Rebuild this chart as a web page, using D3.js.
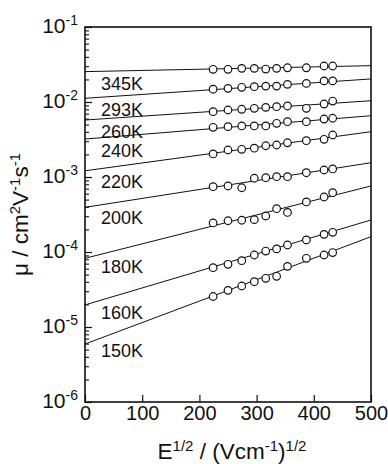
<!DOCTYPE html>
<html lang="en">
	<head>
		<meta charset="UTF-8" />
		<title>Mobility vs E^1/2</title>
		<script src="https://d3js.org/d3.v7.min.js"></script>
		<style>
			body { margin: 0; background: #fff; }
			text { font-family: 'Liberation Sans', Arial, sans-serif; fill: #111; }
		</style>
	</head>
	<body>
		<svg width="388" height="464"></svg>

		<script>
			// E^1/2 values where mobility was measured (same for every temperature)
			const eSqrt = [224, 250, 274, 296, 316, 335, 354, 387, 418, 433];

			// measured mobilities, cm2/Vs
			const mu345 = [2.73e-2, 2.73e-2, 2.81e-2, 2.81e-2, 2.75e-2, 2.81e-2, 2.86e-2, 2.86e-2, 3.02e-2, 3.02e-2];
			const mu293 = [1.48e-2, 1.52e-2, 1.57e-2, 1.60e-2, 1.63e-2, 1.63e-2, 1.72e-2, 1.77e-2, 1.91e-2, 1.91e-2];
			const mu260 = [7.43e-3, 7.82e-3, 8.0e-3, 8.24e-3, 8.49e-3, 8.65e-3, 8.85e-3, 8.24e-3, 9.4e-3, 1.03e-2];
			const mu240 = [4.6e-3, 4.69e-3, 4.79e-3, 4.79e-3, 4.79e-3, 5.2e-3, 5.46e-3, 5.46e-3, 5.93e-3, 6.07e-3];
			const mu220 = [2.03e-3, 2.29e-3, 2.34e-3, 2.42e-3, 2.61e-3, 2.67e-3, 2.86e-3, 3.05e-3, 3.18e-3, 3.63e-3];
			const mu200 = [7.43e-4, 7.59e-4, 7.19e-4, 9.62e-4, 9.79e-4, 1.01e-3, 1.01e-3, 1.14e-3, 1.24e-3, 1.28e-3];
			const mu180 = [2.44e-4, 2.61e-4, 2.65e-4, 2.7e-4, 3.02e-4, 3.78e-4, 3.37e-4, 4.65e-4, 5.41e-4, 6.18e-4];
			const mu160 = [6.18e-5, 6.85e-5, 7.66e-5, 9.12e-5, 1.03e-4, 1.1e-4, 1.24e-4, 1.45e-4, 1.72e-4, 1.83e-4];
			const mu150 = [2.55e-5, 3.08e-5, 3.52e-5, 4.02e-5, 4.46e-5, 4.74e-5, 6.44e-5, 8.24e-5, 9.12e-5, 9.84e-5];

			// fitted lines: mobility at E^1/2 = 0 and at E^1/2 = 500
			const fitEnds = [0, 500];
			const fit345 = [2.54e-2, 3.05e-2];
			const fit293 = [1.12e-2, 2.03e-2];
			const fit260 = [5.75e-3, 1.04e-2];
			const fit240 = [3.21e-3, 6.56e-3];
			const fit220 = [1.21e-3, 4.02e-3];
			const fit200 = [3.94e-4, 1.55e-3];
			const fit180 = [8.24e-5, 7.59e-4];
			const fit160 = [1.97e-5, 2.67e-4];
			const fit150 = [5.93e-6, 1.6e-4];

			const temps = ['345K', '293K', '260K', '240K', '220K', '200K', '180K', '160K', '150K'];
			const muSets = [mu345, mu293, mu260, mu240, mu220, mu200, mu180, mu160, mu150];
			const fitSets = [fit345, fit293, fit260, fit240, fit220, fit200, fit180, fit160, fit150];

			const xTicks = [0, 100, 200, 300, 400, 500];
			const yDecades = [-6, -5, -4, -3, -2, -1];

			const svg = d3.select('svg');
			const margin = { top: 27, right: 17, bottom: 62, left: 85 };
			const w = +svg.attr('width') - margin.left - margin.right;
			const h = +svg.attr('height') - margin.top - margin.bottom;

			const g = svg.append('g').attr('transform', `translate(${margin.left},${margin.top})`);

			const x = d3.scaleLinear().domain([0, 500]).range([0, w]);
			const y = d3.scaleLog().domain([1e-6, 1e-1]).range([h, 0]);

			// minor ticks on the log axis
			const minors = [];
			yDecades.slice(0, -1).forEach(p => {
				for (let k = 2; k <= 9; k++) minors.push(k * Math.pow(10, p));
			});

			g.append('g')
				.attr('class', 'minor')
				.call(d3.axisLeft(y).tickValues(minors).tickSize(-4).tickFormat(''))
				.call(a => a.select('.domain').remove());

			const yAxis = g.append('g')
				.attr('class', 'y-axis')
				.call(d3.axisLeft(y).tickValues(yDecades.map(p => Math.pow(10, p))).tickSize(-7).tickPadding(7))
				.call(a => a.select('.domain').remove());

			yAxis.selectAll('.tick line').attr('stroke', '#111').attr('stroke-width', 1.2);
			g.selectAll('.minor .tick line').attr('stroke', '#111').attr('stroke-width', 1.1);

			yAxis.selectAll('.tick text').each(function (d) {
				const t = d3.select(this);
				const p = Math.round(Math.log10(d));
				t.text(null).attr('dy', null).attr('y', 5).style('font-size', '21px').attr('fill', '#111');
				t.append('tspan').text('10');
				t.append('tspan').attr('dy', -8).style('font-size', '14px').text(String(p));
			});

			const xAxis = g.append('g')
				.attr('transform', `translate(0,${h})`)
				.call(d3.axisBottom(x).tickValues(xTicks).tickSize(-7).tickPadding(4))
				.call(a => a.select('.domain').remove());
			xAxis.selectAll('.tick line').attr('stroke', '#111').attr('stroke-width', 1.2);
			xAxis.selectAll('.tick text').style('font-size', '20px').attr('fill', '#111');

			// frame
			g.append('rect')
				.attr('width', w)
				.attr('height', h)
				.attr('fill', 'none')
				.attr('stroke', '#111')
				.attr('stroke-width', 1.6);

			const line = d3.line()
				.x(d => x(d[0]))
				.y(d => y(d[1]));

			const plot = g.append('g');

			temps.forEach((name, i) => {
				const fit = fitSets[i];
				plot.append('path')
					.datum(fitEnds.map((e, j) => [e, fit[j]]))
					.attr('d', line)
					.attr('fill', 'none')
					.attr('stroke', '#111')
					.attr('stroke-width', 1);

				plot.selectAll(null)
					.data(eSqrt.map((e, j) => [e, muSets[i][j]]))
					.enter()
					.append('circle')
					.attr('cx', d => x(d[0]))
					.attr('cy', d => y(d[1]))
					.attr('r', 3.8)
					.attr('fill', '#fff')
					.attr('stroke', '#111')
					.attr('stroke-width', 1.2);

				// label sits just under its line near the left axis
				const ex = x.invert(16);
				const lmu = Math.pow(10, Math.log10(fit[0]) + (Math.log10(fit[1]) - Math.log10(fit[0])) * ex / 500);
				plot.append('text')
					.attr('x', 16)
					.attr('y', y(lmu) + 19)
					.style('font-size', '18px')
					.text(name);
			});

			// axis titles
			const xt = svg.append('text')
				.attr('x', margin.left + w / 2 + 4)
				.attr('y', 459)
				.attr('text-anchor', 'middle')
				.style('font-size', '22.5px');
			xt.append('tspan').text('E');
			xt.append('tspan').attr('dy', -8).style('font-size', '15px').text('1/2');
			xt.append('tspan').attr('dy', 8).text(' / (Vcm');
			xt.append('tspan').attr('dy', -8).style('font-size', '15px').text('-1');
			xt.append('tspan').attr('dy', 8).text(')');
			xt.append('tspan').attr('dy', -8).style('font-size', '15px').text('1/2');

			const yt = svg.append('text')
				.attr('transform', `translate(28,${margin.top + h / 2}) rotate(-90)`)
				.attr('text-anchor', 'middle')
				.style('font-size', '22.5px');
			yt.append('tspan').text('\u03bc / cm');
			yt.append('tspan').attr('dy', -8).style('font-size', '15px').text('2');
			yt.append('tspan').attr('dy', 8).text('V');
			yt.append('tspan').attr('dy', -8).style('font-size', '15px').text('-1');
			yt.append('tspan').attr('dy', 8).text('s');
			yt.append('tspan').attr('dy', -8).style('font-size', '15px').text('-1');
		</script>
	</body>
</html>
